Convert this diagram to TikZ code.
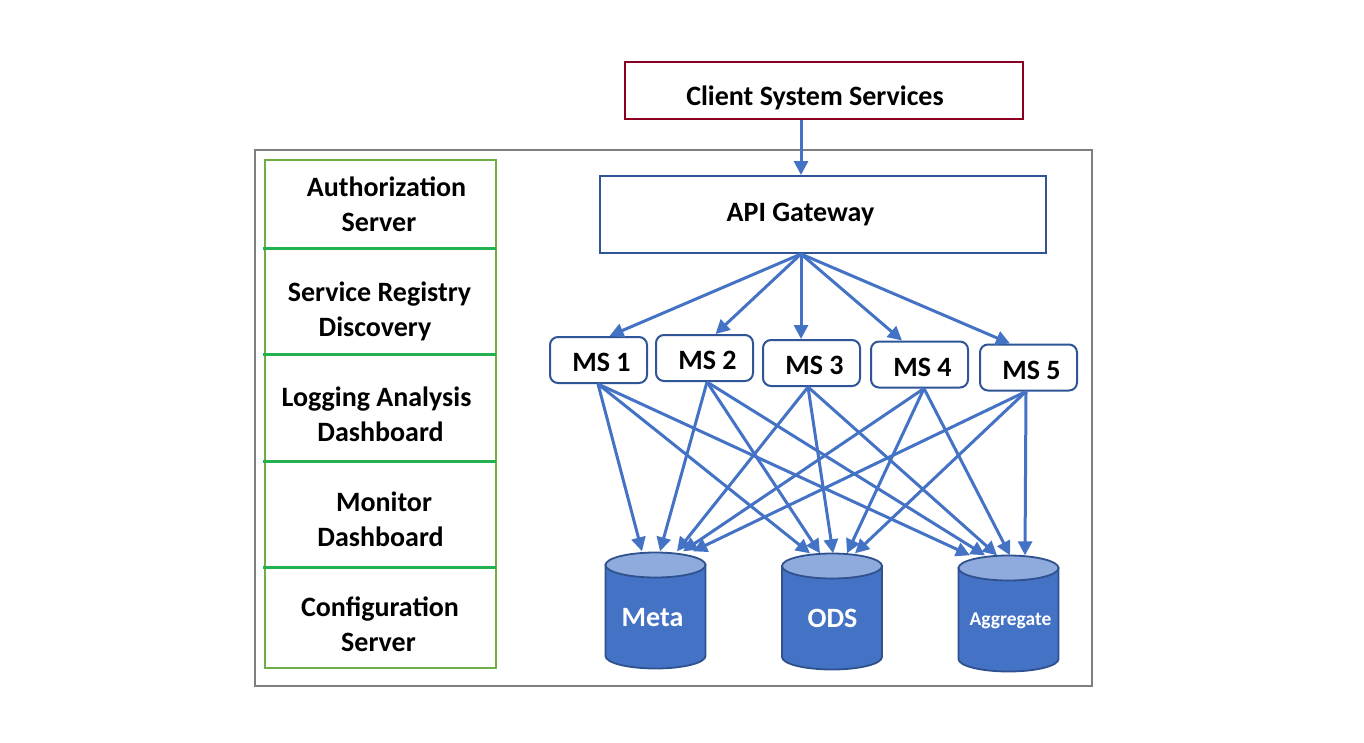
\documentclass[tikz,border=0pt]{standalone}
\usepackage{fontspec}
\setmainfont{Carlito}
\usetikzlibrary{arrows.meta}
\definecolor{cred}{RGB}{139,0,32}
\definecolor{cblue}{RGB}{47,85,151}
\definecolor{carrow}{RGB}{68,114,196}
\definecolor{cgray}{RGB}{127,127,127}
\definecolor{cgreen}{RGB}{112,173,71}
\definecolor{cgreentwo}{RGB}{34,177,76}
\definecolor{cdbfill}{RGB}{68,114,196}
\definecolor{cdbtop}{RGB}{143,170,220}
\definecolor{cdbline}{RGB}{47,82,143}
\begin{document}
\begin{tikzpicture}[x=1pt,y=-1pt,
  every node/.style={font=\fontsize{28}{35}\selectfont\bfseries},
  frame/.style={draw=cgray, line width=1.1pt},
  clientbox/.style={draw=cred, line width=2.6pt, minimum width=398pt, minimum height=57pt, inner sep=0pt},
  gatebox/.style={draw=cblue, line width=2pt, minimum width=446pt, minimum height=77pt, inner sep=0pt},
  msbox/.style={draw=cblue, line width=2pt, rounded corners=8pt, minimum width=97pt, minimum height=46pt, inner sep=0pt, text height=23pt, text depth=0pt},
  flow/.style={draw=carrow, line width=3pt, -{Triangle[length=14pt,width=14pt]}},
  paneltxt/.style={align=center, inner sep=0pt},
  dbnode/.style={minimum width=101pt, minimum height=117pt, inner sep=0pt},
  dblabel/.style={text=white, inner sep=0pt},
  dbcyl/.pic={
    \path[fill=cdbfill, draw=cdbline, line width=1.8pt] (-50,0) -- (-50,91)
      arc[start angle=180, end angle=360, x radius=50pt, y radius=12.5pt] -- (50,0) -- cycle;
    \path[fill=cdbtop, draw=cdbline, line width=1.8pt] (0,0) ellipse [x radius=50pt, y radius=12.5pt];
  }
]
\useasboundingbox[fill=white] (0,0) rectangle (1364,742);

% outer frame
\draw[frame] (255,150) rectangle (1092,686);

% client and gateway
\node[clientbox, label={[inner sep=0pt, xshift=-9pt, yshift=-7pt]center:Client System Services}] (client) at (824,90.5) {};
\node[gatebox, label={[inner sep=0pt, xshift=-22.5pt, yshift=0pt]center:API Gateway}] (api) at (823,214.5) {};

% left panel
\draw[draw=cgreen, line width=1.8pt] (265,160) rectangle (496,668);
\foreach \yy in {248,354,461,567}
  \draw[draw=cgreentwo, line width=3pt] (263,\yy) -- (496,\yy);
\node[paneltxt] (auth) at (380,204) {\hspace*{13pt}Authorization\\Server\hspace*{2pt}};
\node[paneltxt] (reg) at (380,311.5) {Service Registry\hspace*{1pt}\\Discovery\hspace*{10pt}};
\node[paneltxt] (log) at (380,414) {Logging Analysis\hspace*{7pt}\\\hspace*{1pt}Dashboard};
\node[paneltxt] (mon) at (380,519) {\hspace*{8pt}Monitor\\\hspace*{1pt}Dashboard};
\node[paneltxt] (conf) at (380,624) {Configuration\\Server\hspace*{3pt}};

% microservices
\node[msbox] (ms1) at (598.5,360) {\hspace*{6pt}MS 1};
\node[msbox] (ms2) at (704.5,358) {\hspace*{6pt}MS 2};
\node[msbox] (ms3) at (811.5,363) {\hspace*{6pt}MS 3};
\node[msbox] (ms4) at (919.5,364.5) {\hspace*{6pt}MS 4};
\node[msbox] (ms5) at (1028.5,367.5) {\hspace*{6pt}MS 5};

% databases
\pic at (655.5,565) {dbcyl};
\pic at (832,566) {dbcyl};
\pic at (1008.5,568) {dbcyl};
\node[dbnode] (meta) at (655.5,610) {};
\node[dbnode] (ods) at (832,612) {};
\node[dbnode] (agg) at (1008.5,614) {};
\node[dblabel] (metalabel) at (652.5,618) {Meta};
\node[dblabel] (odslabel) at (832.5,618) {ODS};
\node[dblabel, font=\fontsize{19.5}{24}\selectfont\bfseries] (agglabel) at (1010.5,621) {Aggregate};

% connectors
\draw[flow] ([xshift=-23pt]client.south) -- ([xshift=-22pt]api.north);
\draw[flow] ([xshift=-22pt]api.south) -- ([xshift=11pt]ms1.north);
\draw[flow] ([xshift=-22pt]api.south) -- ([xshift=11pt]ms2.north);
\draw[flow] ([xshift=-22pt]api.south) -- ([xshift=-10.5pt]ms3.north);
\draw[flow] ([xshift=-22pt]api.south) -- ([xshift=-17.5pt]ms4.north);
\draw[flow] ([xshift=-22pt]api.south) -- ([xshift=-18.5pt]ms5.north);

\draw[flow] ([xshift=-0.5pt]ms1.south) -- ([xshift=-13.5pt]meta.north);
\draw[flow] ([xshift=-0.5pt]ms1.south) -- ([xshift=-22pt]ods.north);
\draw[flow] ([xshift=-0.5pt]ms1.south) -- ([xshift=-38.5pt]agg.north);
\draw[flow] ([xshift=2.5pt]ms2.south) -- ([xshift=4.5pt]meta.north);
\draw[flow] ([xshift=2.5pt]ms2.south) -- ([xshift=-12pt]ods.north);
\draw[flow] ([xshift=2.5pt]ms2.south) -- ([xshift=-23.5pt]agg.north);
\draw[flow] ([xshift=-3.5pt]ms3.south) -- ([xshift=21.5pt]meta.north);
\draw[flow] ([xshift=-3.5pt]ms3.south) -- ([xshift=1pt]ods.north);
\draw[flow] ([xshift=-3.5pt]ms3.south) -- ([xshift=-11.5pt]agg.north);
\draw[flow] ([xshift=4.5pt]ms4.south) -- ([xshift=27.5pt]meta.north);
\draw[flow] ([xshift=4.5pt]ms4.south) -- ([xshift=15pt]ods.north);
\draw[flow] ([xshift=4.5pt]ms4.south) -- ([xshift=1.5pt]agg.north);
\draw[flow] ([xshift=-2.5pt]ms5.south) -- ([xshift=37.5pt]meta.north);
\draw[flow] ([xshift=-2.5pt]ms5.south) -- ([xshift=23pt]ods.north);
\draw[flow] ([xshift=-2.5pt]ms5.south) -- ([xshift=16.5pt]agg.north);
\end{tikzpicture}
\end{document}
